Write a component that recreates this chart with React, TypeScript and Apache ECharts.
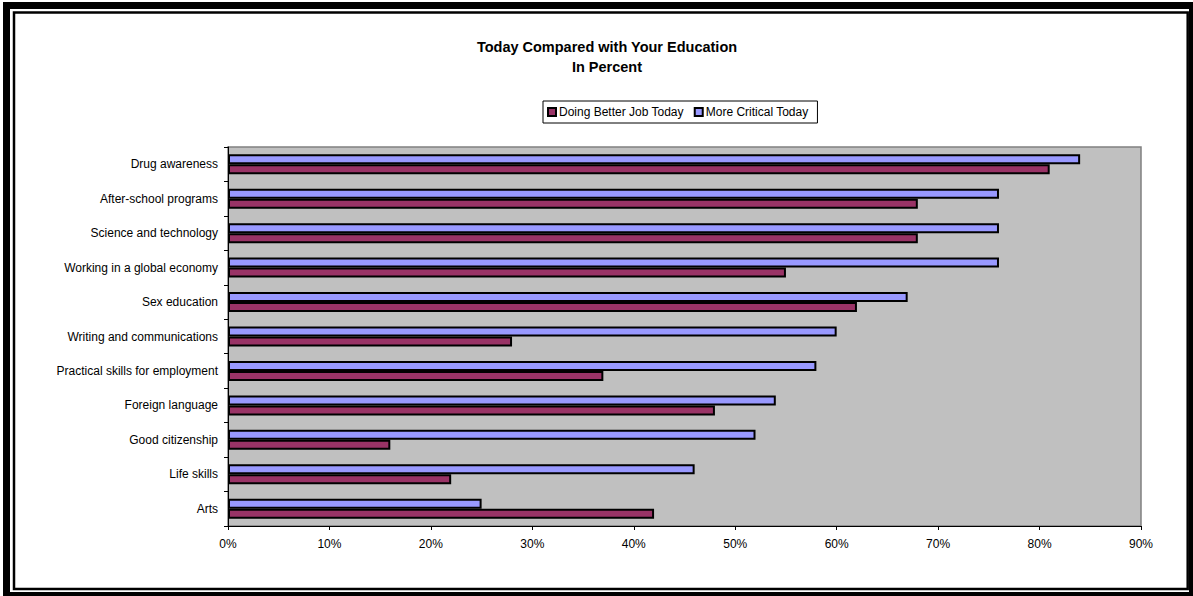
import React, { useEffect, useRef } from "react";
import * as echarts from "echarts";

const categories = [
  "Arts",
  "Life skills",
  "Good citizenship",
  "Foreign language",
  "Practical skills for employment",
  "Writing and communications",
  "Sex education",
  "Working in a global economy",
  "Science and technology",
  "After-school programs",
  "Drug awareness",
];

const doingBetter = [42, 22, 16, 48, 37, 28, 62, 55, 68, 68, 81];
const moreCritical = [25, 46, 52, 54, 58, 60, 67, 76, 76, 76, 84];

const seriesNames = ["Doing Better Job Today", "More Critical Today"];
const titleLines = ["Today Compared with Your Education", "In Percent"];

const FONT = "'Liberation Sans', Arial, sans-serif";

export default function App() {
  const ref = useRef<HTMLDivElement>(null);

  useEffect(() => {
    if (!ref.current) return;
    const chart = echarts.init(ref.current, null, { renderer: "svg" });
    chart.setOption({
      animation: false,
      backgroundColor: "#ffffff",
      textStyle: { fontFamily: FONT },
      graphic: [
        {
          type: "rect",
          shape: { x: 6.5, y: 5.5, width: 1186, height: 590 },
          style: { fill: "none", stroke: "#000", lineWidth: 7 },
          silent: true,
        },
        {
          type: "rect",
          shape: { x: 14, y: 12.5, width: 1173.7, height: 576.5 },
          style: { fill: "none", stroke: "#000", lineWidth: 2.5 },
          silent: true,
        },
        {
          type: "text",
          x: 607,
          y: 47,
          style: {
            text: titleLines[0],
            fontFamily: FONT,
            fontSize: 14.5,
            fontWeight: "bold",
            fill: "#000",
            align: "center",
            verticalAlign: "middle",
          },
        },
        {
          type: "text",
          x: 607,
          y: 67,
          style: {
            text: titleLines[1],
            fontFamily: FONT,
            fontSize: 14.5,
            fontWeight: "bold",
            fill: "#000",
            align: "center",
            verticalAlign: "middle",
          },
        },
      ],
      legend: {
        data: seriesNames,
        left: 543,
        top: 101,
        orient: "horizontal",
        padding: [5, 9, 5, 4],
        itemGap: 10,
        itemWidth: 8,
        itemHeight: 8,
        icon: "rect",
        borderColor: "#000",
        borderWidth: 1,
        backgroundColor: "#fff",
        textStyle: { fontFamily: FONT, fontSize: 12, color: "#000", padding: [0, 0, 0, -2] },
      },
      grid: {
        left: 228,
        right: 52,
        top: 147,
        bottom: 70,
        show: true,
        backgroundColor: "#C0C0C0",
        borderColor: "#808080",
        borderWidth: 1.5,
      },
      xAxis: {
        type: "value",
        min: 0,
        max: 90,
        interval: 10,
        axisLine: { show: true, lineStyle: { color: "#000", width: 1 } },
        axisTick: { show: true, length: 4, lineStyle: { color: "#000" } },
        axisLabel: {
          formatter: "{value}%",
          color: "#000",
          fontSize: 12,
          fontFamily: FONT,
          margin: 12,
        },
        splitLine: { show: false },
      },
      yAxis: {
        type: "category",
        data: categories,
        axisLine: { show: true, lineStyle: { color: "#000", width: 1 } },
        axisTick: { show: true, length: 4, alignWithLabel: false, lineStyle: { color: "#000" } },
        axisLabel: { color: "#000", fontSize: 12, fontFamily: FONT, margin: 10 },
        splitLine: { show: false },
      },
      series: [
        {
          name: seriesNames[1],
          type: "bar",
          data: moreCritical,
          barWidth: 10,
          barGap: "0%",
          itemStyle: { color: "#9999FF", borderColor: "#000", borderWidth: 2 },
        },
        {
          name: seriesNames[0],
          type: "bar",
          data: doingBetter,
          barWidth: 10,
          barGap: "0%",
          itemStyle: { color: "#993366", borderColor: "#000", borderWidth: 2 },
        },
      ],
    });
    return () => chart.dispose();
  }, []);

  return (
    <div
      ref={ref}
      style={{ position: "fixed", left: 0, top: 0, width: 1193, height: 596 }}
    />
  );
}
